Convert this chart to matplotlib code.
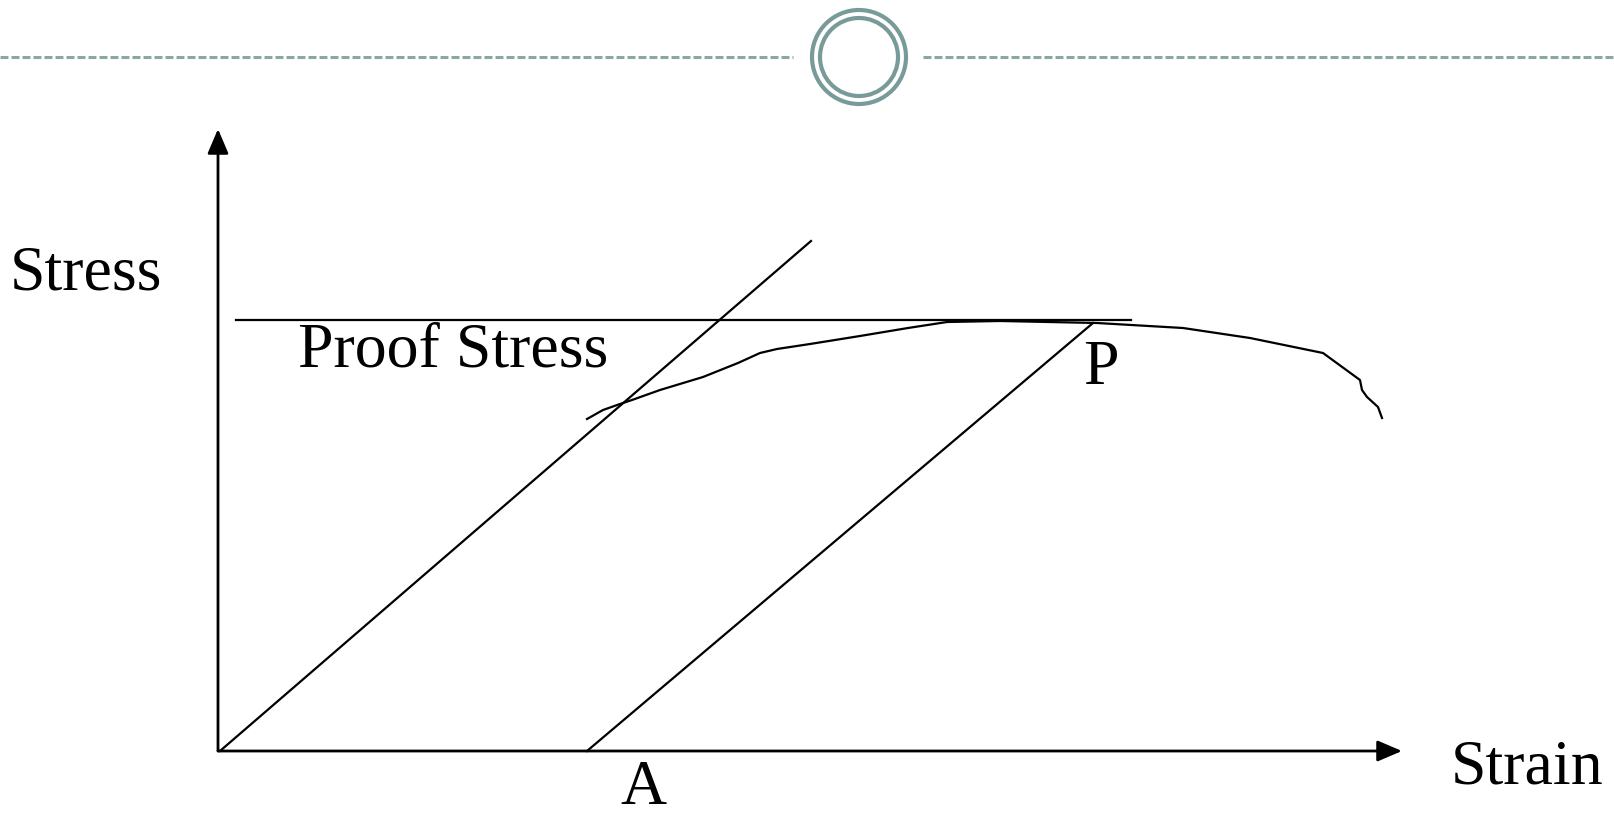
import matplotlib
matplotlib.use("Agg")
import matplotlib.pyplot as plt
from matplotlib.patches import Circle

plt.rcParams['font.family'] = ['Liberation Serif', 'DejaVu Serif']

W, H = 1614, 819

# stress-strain curve (arbitrary units, origin at axes corner)
strain = [3.69, 3.85, 4.02, 4.14, 4.42, 4.85, 5.20, 5.42, 5.59, 5.92, 6.42,
          6.90, 7.29, 7.82, 8.79, 9.65, 10.32, 11.05, 11.42, 11.44, 11.49,
          11.60, 11.64]
stress = [3.32, 3.41, 3.47, 3.51, 3.61, 3.74, 3.88, 3.98, 4.02, 4.07, 4.15,
          4.23, 4.29, 4.30, 4.28, 4.23, 4.13, 3.98, 3.71, 3.61, 3.54,
          3.44, 3.33]

# elastic line from origin and offset line from A to P
elastic_x = [0.02, 5.93]
elastic_y = [0.0, 5.10]
offset_x = [3.69, 8.75]
offset_y = [0.0, 4.28]
proof_x = [0.18, 9.13]
proof_y = 4.31

x_max, y_max = 11.84, 6.22

fig = plt.figure(figsize=(W / 100, H / 100), dpi=100)

ox, oy = 218, 751
ax = fig.add_axes([ox / W, (H - oy) / H, 1184 / W, 622 / H])
ax.set_xlim(0, x_max)
ax.set_ylim(0, y_max)
ax.axis('off')

lw = 1.6
ax.plot(strain, stress, color='black', lw=lw, clip_on=False)
ax.plot(elastic_x, elastic_y, color='black', lw=lw, clip_on=False)
ax.plot(offset_x, offset_y, color='black', lw=lw, clip_on=False)
ax.plot(proof_x, [proof_y, proof_y], color='black', lw=lw, clip_on=False)

arrow = dict(arrowstyle='-|>,head_length=0.75,head_width=0.32', color='black',
             lw=2.0, shrinkA=0, shrinkB=0, mutation_scale=20)
ax.annotate('', xy=(0, y_max), xytext=(0, 0), arrowprops=arrow, annotation_clip=False)
ax.annotate('', xy=(x_max, 0), xytext=(0, 0), arrowprops=arrow, annotation_clip=False)


def fp(x, y):
    return x / W, (H - y) / H


fs = 46
fig.text(*fp(10, 290), 'Stress', fontsize=fs, va='baseline', ha='left')
fig.text(*fp(298, 367), 'Proof Stress', fontsize=fs, va='baseline', ha='left')
fig.text(*fp(1083, 384), 'P', fontsize=fs, va='baseline', ha='left')
fig.text(*fp(620, 804), 'A', fontsize=fs, va='baseline', ha='left')
fig.text(*fp(1451, 784), 'Strain', fontsize=fs, va='baseline', ha='left')

# slide header decoration
deco = fig.add_axes([0, 0, 1, 1], zorder=-1)
deco.set_xlim(0, W)
deco.set_ylim(H, 0)
deco.axis('off')
dash_col = '#8ba7a5'
deco.plot([0, 793], [57, 57], color=dash_col, lw=2.2, linestyle=(0, (2.6, 1.0)))
deco.plot([923, W], [57, 57], color=dash_col, lw=2.2, linestyle=(0, (2.6, 1.0)))
ring_col = '#789b99'
deco.add_patch(Circle((859, 57), 47, fill=False, lw=3, ec=ring_col))
deco.add_patch(Circle((859, 57), 39, fill=False, lw=3, ec=ring_col))

fig.savefig('out.png', dpi=100)
